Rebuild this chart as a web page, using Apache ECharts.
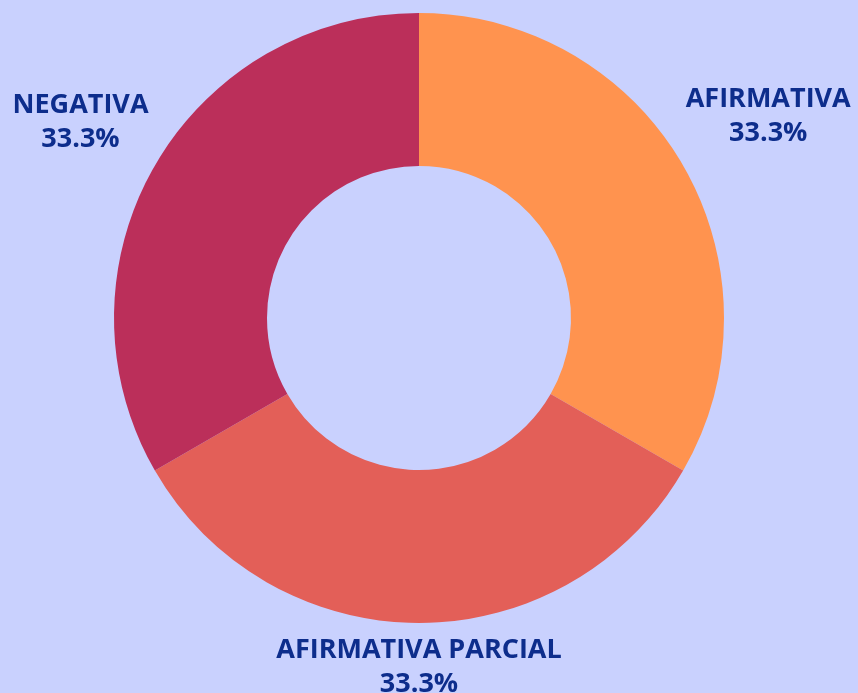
<!DOCTYPE html>
<html>
<head>
<meta charset="utf-8">
<script src="https://cdn.jsdelivr.net/npm/echarts@6/dist/echarts.min.js"></script>
<style>
  html, body { margin: 0; padding: 0; background: #c9d1fe; }
  #chart { width: 858px; height: 693px; }
</style>
</head>
<body>
<div id="chart"></div>
<script>
var categories = ['AFIRMATIVA', 'AFIRMATIVA PARCIAL', 'NEGATIVA'];
var values = [1, 1, 1];
var colors = ['#ff934f', '#e35f58', '#bb2f5a'];

var center = [419, 318];
var outerR = 305;
var innerR = 152;
var labelGap = 315; // distance from centre to nearest edge of label box

var total = values.reduce(function (a, b) { return a + b; }, 0);

// mid angle (deg) of each slice, clockwise from 12 o'clock
function midAngle(i) {
    var before = 0;
    for (var k = 0; k < i; k++) before += values[k];
    return 90 - (before + values[i] / 2) / total * 360;
}

// distance from origin to box centred at (x, y)
function boxDist(x, y, hw, hh) {
    var nx = Math.max(Math.abs(x) - hw, 0);
    var ny = Math.max(Math.abs(y) - hh, 0);
    return Math.sqrt(nx * nx + ny * ny);
}

var myChart = echarts.init(document.getElementById('chart'));

var option = {
    backgroundColor: '#c9d1fe',
    color: colors,
    series: [{
        type: 'pie',
        center: center,
        radius: [innerR, outerR],
        startAngle: 90,
        avoidLabelOverlap: false,
        label: {
            show: true,
            position: 'outside',
            formatter: function (p) {
                return p.name + '\n' + (p.value / total * 100).toFixed(1) + '%';
            },
            color: '#0d2d8c',
            fontFamily: 'Open Sans',
            fontWeight: 'bold',
            fontSize: 27,
            lineHeight: 34,
            align: 'center'
        },
        labelLine: { show: false },
        labelLayout: function (params) {
            var a = midAngle(params.dataIndex) * Math.PI / 180;
            var ux = Math.cos(a), uy = -Math.sin(a);
            var hw = params.labelRect.width / 2;
            var hh = params.labelRect.height / 2;
            var lo = 0, hi = 1000;
            for (var n = 0; n < 60; n++) {
                var mid = (lo + hi) / 2;
                if (boxDist(mid * ux, mid * uy, hw, hh) < labelGap) lo = mid; else hi = mid;
            }
            return {
                x: center[0] + lo * ux,
                y: center[1] + lo * uy,
                align: 'center',
                verticalAlign: 'middle'
            };
        },
        emphasis: { disabled: true },
        data: categories.map(function (name, i) {
            return { name: name, value: values[i] };
        })
    }]
};

myChart.setOption(option);
</script>
</body>
</html>
